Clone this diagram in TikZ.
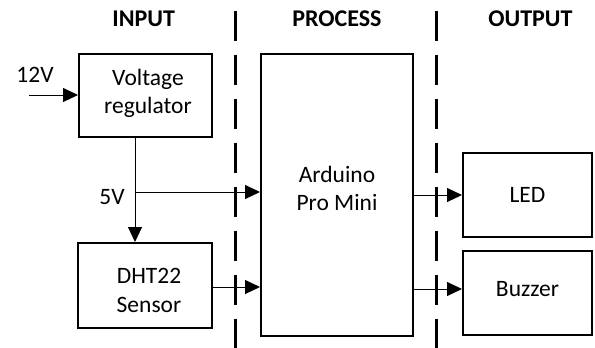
\documentclass[tikz,border=0pt]{standalone}
\usepackage{fontspec}
\setmainfont{Carlito}
\usetikzlibrary{arrows.meta}
\begin{document}
\begin{tikzpicture}[x=1pt,y=-1pt,
  blk/.style={draw,line width=2pt,inner sep=0pt},
  txt/.style={font=\fontsize{23.5}{28}\selectfont,inner sep=0pt,anchor=base},
  hdr/.style={font=\fontsize{24}{28}\selectfont\bfseries,inner sep=0pt,anchor=base},
  conn/.style={line width=1pt,-{Triangle[length=15pt,width=14pt]}},
  plain/.style={line width=1pt},
  sepline/.style={line width=3.6pt,dash pattern=on 30.5pt off 13.5pt}]
\fill[white] (0,0) rectangle (595,348);
\useasboundingbox (0,0) rectangle (595,348);
% headers
\node[hdr] (hin) at (143.7,26.7) {INPUT};
\node[hdr] (hpr) at (337,26.7) {PROCESS};
\node[hdr] (hout) at (530.5,26.7) {OUTPUT};
% separators
\draw[sepline] (235.3,10.7) -- (235.3,348);
\draw[sepline] (436.3,10.7) -- (436.3,348);
% blocks
\node[blk,minimum width=133pt,minimum height=83pt] (reg) at (145.5,95.5) {};
\node[blk,minimum width=134pt,minimum height=85pt] (dht) at (145,285.5) {};
\node[blk,minimum width=152pt,minimum height=282pt] (ard) at (337,195) {};
\node[blk,minimum width=129pt,minimum height=84pt] (led) at (527.5,195) {};
\node[blk,minimum width=129pt,minimum height=84pt] (buz) at (527.5,293) {};
% texts
\node[txt] (reg1) at (148,85.3) {Voltage};
\node[txt] (reg2) at (148,113.3) {regulator};
\node[txt] (dht1) at (149,283.3) {DHT22};
\node[txt] (dht2) at (149,312.7) {Sensor};
\node[txt] (ard1) at (337,182) {Arduino};
\node[txt] (ard2) at (337,210) {Pro Mini};
\node[txt] (led1) at (527.5,202) {LED};
\node[txt] (buz1) at (527.5,296.7) {Buzzer};
\node[txt] (v12) at (35,82.7) {12V};
\node[txt] (v5) at (112,204) {5V};
% connectors
\coordinate (in) at (29,95);
\coordinate (j) at (135,192);
\coordinate (d) at (0,287);
\coordinate (o2) at (0,289);
\draw[conn] (in) -- (reg.west |- in);
\draw[plain] (reg.south -| j) -- (j);
\draw[conn] (j) -- (dht.north -| j);
\draw[conn] (j) -- (ard.west |- j);
\draw[conn] (dht.east |- d) -- (ard.west |- d);
\draw[conn] (ard.east |- led.west) -- (led.west);
\draw[conn] (ard.east |- o2) -- (buz.west |- o2);
\end{tikzpicture}
\end{document}
